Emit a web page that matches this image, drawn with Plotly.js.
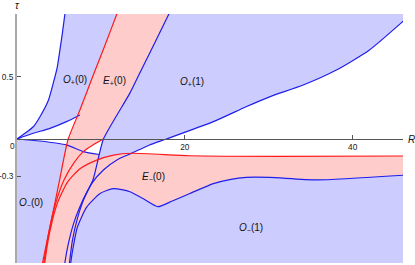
<!DOCTYPE html>
<html><head><meta charset="utf-8">
<script src="https://cdn.plot.ly/plotly-3.0.1.min.js"></script>
<style>html,body{margin:0;padding:0;background:#fff}#c{width:415px;height:265px}</style>
</head><body><div id="c"></div>
<script>
// ---- curve data (R, tau) ----
const opZeroLeftR = [0, 0.95, 1.94, 2.74, 3.73, 4.32, 4.8, 5.12, 5.4, 5.71, 5.78];
const opZeroLeftT = [0, 0.046, 0.099, 0.18, 0.31, 0.45, 0.58, 0.72, 0.85, 1.008, 1.04];
const opZeroLowR = [0, 1.94, 3.93, 5.9, 7.5];
const opZeroLowT = [0, 0.046, 0.086, 0.14, 0.194];
const epLeftR = [3.0, 3.05, 4.05, 5.08, 5.6, 6.1, 7.5, 9.0, 10.45, 11.9, 12.1];
const epLeftT = [-1.03, -1.0, -0.67, -0.33, -0.15, 0, 0.234, 0.5, 0.75, 1.008, 1.04];
const epRightR = [5.65, 5.7, 6.1, 6.8, 7.8, 9.05, 9.8, 10.3, 13.45, 14.4, 18.1, 18.3];
const epRightT = [-1.03, -1.0, -0.85, -0.67, -0.5, -0.33, -0.125, 0, 0.37, 0.5, 1.008, 1.04];
const opOneR = [6.2, 6.25, 6.6, 7.2, 8.0, 9.0, 10.3, 12.0, 13.65, 15.8, 17.8, 23.4, 27.3, 30.1, 34.1, 38.06, 42.0, 45.95, 46.5];
const opOneT = [-1.03, -1.0, -0.82, -0.64, -0.48, -0.35, -0.25, -0.165, -0.115, -0.048, 0, 0.14, 0.26, 0.34, 0.435, 0.556, 0.718, 0.946, 0.98];
const omZeroR = [0, 2.7, 5.9, 7.9, 9.8];
const omZeroT = [0, -0.016, -0.048, -0.102, -0.125];
const emUpR = [3.25, 3.3, 3.9, 4.8, 6.0, 7.5, 9.5, 11.5, 13.65, 20.6, 31.3, 46.5];
const emUpT = [-1.03, -1.0, -0.75, -0.52, -0.35, -0.24, -0.17, -0.13, -0.115, -0.135, -0.14, -0.137];
const redTwoR = [3.15, 3.2, 3.8, 4.6, 5.6, 6.8, 7.9, 9.0, 10.3];
const redTwoT = [-1.03, -1.0, -0.75, -0.52, -0.33, -0.19, -0.102, -0.05, 0];
const emLowR = [6.35, 6.4, 6.7, 7.2, 8.3, 9.9, 11.5, 13.45, 15.0, 16.8, 18.5, 20.6, 23.4, 25.5, 27.3, 30.1, 35.7, 46.5];
const emLowT = [-1.03, -1.0, -0.87, -0.71, -0.55, -0.44, -0.40, -0.425, -0.48, -0.546, -0.50, -0.44, -0.36, -0.325, -0.31, -0.31, -0.33, -0.29];

// ---- labels ----
const regionText = ['<i>O</i><sub>+</sub>(0)', '<i>E</i><sub>+</sub>(0)', '<i>O</i><sub>+</sub>(1)',
                    '<i>O</i><sub>−</sub>(0)', '<i>E</i><sub>−</sub>(0)', '<i>O</i><sub>−</sub>(1)'];
const regionR = [6.9, 11.6, 20.8, 1.67, 16.3, 27.9];
const regionT = [0.476, 0.464, 0.46, -0.516, -0.31, -0.714];
const xTickVals = [20, 40];
const xTickText = ['20', '40'];
const originTickVals = [0];
const originTickText = ['0'];
const yTickVals = [0.5, -0.3];
const yTickText = ['0.5', '-0.3'];

const R_MIN = 0, R_MAX = 46, T_MIN = -1, T_MAX = 1.008;
const BLUE_FILL = 'rgb(204,204,255)';
const PINK_FILL = 'rgb(255,204,204)';
const BLUE_LINE = 'rgb(30,30,235)';
const RED_LINE = 'rgb(255,25,25)';

const rev = a => a.slice().reverse();
const last = a => a[a.length - 1];
function pick(R, T, test) {
  const r = [], t = [];
  R.forEach((v, i) => { if (test(v, T[i])) { r.push(v); t.push(T[i]); } });
  return [r, t];
}
// region shapes: paths in data coordinates, placed by the axes
const shapes = [];
function region(xs, ys, color) {
  const d = xs.map((x, i) => (i ? 'L' : 'M') + x + ',' + ys[i]).join(' ') + ' Z';
  shapes.push({type: 'path', xref: 'x', yref: 'y', path: d, fillcolor: color, line: {width: 0}, layer: 'below'});
}
const topT = last(opZeroLeftT), botT = epLeftT[0], farR = last(emUpR);

// blue O+(0)
{
  const [r1r, r1t] = pick(epLeftR, epLeftT, (r, t) => t > last(opZeroLowT));
  region(opZeroLeftR.concat(rev(r1r), rev(opZeroLowR)), opZeroLeftT.concat(rev(r1t), rev(opZeroLowT)), BLUE_FILL);
}
// blue O+(1)
{
  const [b1r, b1t] = pick(epRightR, epRightT, (r, t) => t >= -0.33);
  const [b2r, b2t] = pick(opOneR, opOneT, (r, t) => t >= -0.25);
  region(b1r.concat([farR], rev(b2r)), b1t.concat([topT], rev(b2t)), BLUE_FILL);
}
// blue lower half O-(0), O-(1)
{
  const [r3r, r3t] = pick(emUpR, emUpT, (r, t) => r >= 13.65);
  region(omZeroR.concat(r3r, [farR, R_MIN]), omZeroT.concat(r3t, [botT, botT]), BLUE_FILL);
}
// pink E-(0)
region(emUpR.concat(rev(emLowR)), emUpT.concat(rev(emLowT)), PINK_FILL);
// pink E+(0) band with the small gap near the axis
{
  const [b1Top, b1TopT] = pick(epRightR, epRightT, (r, t) => t >= 0);
  const [b1Bot, b1BotT] = pick(epRightR, epRightT, (r, t) => t <= last(omZeroT));
  const [r2r, r2t] = pick(redTwoR, redTwoT, (r, t) => t >= -0.11 && t < 0);
  region(epLeftR.concat(rev(b1Top), rev(r2r), [last(omZeroR)], rev(b1Bot)),
         epLeftT.concat(rev(b1TopT), rev(r2t), [last(omZeroT)], rev(b1BotT)), PINK_FILL);
}

function line(xs, ys, color) {
  return {x: xs, y: ys, type: 'scatter', mode: 'lines', line: {color: color, width: 1.2, shape: 'spline', smoothing: 0.6},
          hoverinfo: 'skip', showlegend: false};
}
const traces = [
  line(opZeroLeftR, opZeroLeftT, BLUE_LINE),
  line(opZeroLowR, opZeroLowT, BLUE_LINE),
  line(omZeroR, omZeroT, BLUE_LINE),
  line(epRightR, epRightT, BLUE_LINE),
  line(opOneR, opOneT, BLUE_LINE),
  line(emLowR, emLowT, BLUE_LINE),
  line(epLeftR, epLeftT, RED_LINE),
  line(redTwoR, redTwoT, RED_LINE),
  line(emUpR, emUpT, RED_LINE)
];

const tickFont = {family: 'Liberation Sans, Arial, sans-serif', size: 8.3, color: '#222'};
const annFont = {family: 'Liberation Sans, Arial, sans-serif', size: 10, color: '#111'};
const annotations = regionText.map((t, i) => ({x: regionR[i], y: regionT[i], xref: 'x', yref: 'y', text: t,
  showarrow: false, font: annFont, xanchor: 'center', yanchor: 'middle'}));
annotations.push({x: 0, y: 1, xref: 'x', yref: 'paper', text: '<i>τ</i>', showarrow: false, yshift: 9,
  font: annFont, xanchor: 'center', yanchor: 'middle'});
annotations.push({x: 1, y: 0, xref: 'paper', yref: 'y', text: '<i>R</i>', showarrow: false, xshift: 3,
  font: annFont, xanchor: 'left', yanchor: 'middle'});
originTickVals.forEach((v, i) => annotations.push({x: v, y: 0, xref: 'x', yref: 'y', text: originTickText[i],
  showarrow: false, xshift: -5, yshift: -7, font: tickFont, xanchor: 'center', yanchor: 'middle'}));

const axisPos = (0 - T_MIN) / (T_MAX - T_MIN);
const layout = {
  width: 415, height: 265,
  margin: {l: 17, r: 12, t: 14, b: 2, pad: 0},
  paper_bgcolor: '#ffffff', plot_bgcolor: '#ffffff',
  showlegend: false,
  xaxis: {range: [R_MIN, R_MAX], showgrid: false, zeroline: false, anchor: 'free', position: axisPos,
          showline: true, linecolor: '#555', linewidth: 1, ticks: 'inside', ticklen: 4, tickcolor: '#555',
          tickvals: xTickVals, ticktext: xTickText, tickfont: tickFont, fixedrange: true},
  yaxis: {range: [T_MIN, T_MAX], showgrid: false, zeroline: false, showline: true, linecolor: '#aaa', linewidth: 2,
          ticks: 'inside', ticklen: 4, tickcolor: '#555', tickvals: yTickVals, ticktext: yTickText, tickfont: tickFont,
          fixedrange: true},
  shapes: shapes,
  annotations: annotations
};
Plotly.newPlot('c', traces, layout, {displayModeBar: false, staticPlot: true});
</script></body></html>
